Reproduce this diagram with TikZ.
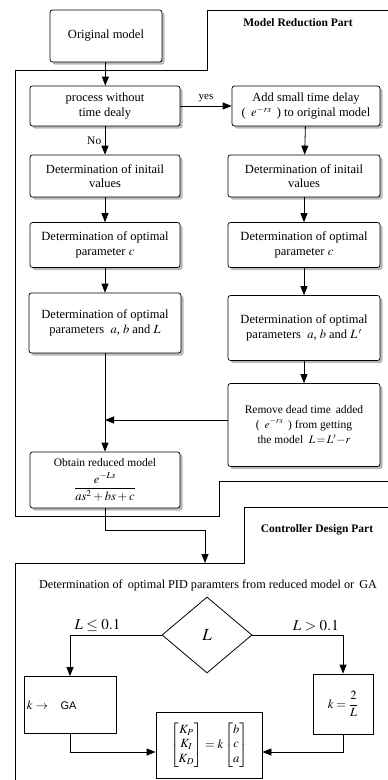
\documentclass[tikz,border=0pt]{standalone}
\usepackage{amsmath,amssymb}
\usepackage{mathptmx}
\usepackage{fontspec}
\setmainfont{Liberation Serif}
\newfontfamily\gafont{Liberation Sans}
\usetikzlibrary{arrows.meta,positioning,shapes.geometric,shadows}
\tikzset{
  stage/.style={draw,rounded corners=2.5pt,fill=white,align=center,line width=0.7pt,
    font=\fontsize{12.5}{14.5}\selectfont,inner sep=2pt,
    drop shadow={shadow xshift=2.5pt,shadow yshift=-2.5pt,fill=gray!55,opacity=1}},
  plain/.style={draw,fill=white,align=center,line width=0.8pt,
    font=\fontsize{12.5}{14.5}\selectfont,inner sep=2pt},
  flow/.style={-{Triangle[length=9pt,width=7pt]},line width=0.8pt},
  frame/.style={line width=1pt},
  parttitle/.style={font=\fontsize{11.5}{13}\selectfont\bfseries},
  cond/.style={font=\fontsize{15}{17}\selectfont},
}

\begin{document}
\begin{tikzpicture}[x=1pt,y=-1pt]
\useasboundingbox (0,0) rectangle (388,780);

% part frames
\draw[frame] (388,10) -- (207,10) -- (207,70) -- (15,70) -- (15,516)
  -- (219,516) -- (219,481) -- (388,481);
\draw[frame] (388,507) -- (244,507) -- (244,563) -- (15,563) -- (15,780);
\node[parttitle] (mrtitle) at (298,23) {Model Reduction Part};
\node[parttitle] (cdtitle) at (317,530) {Controller Design Part};

% model reduction
\node[stage,minimum width=112pt,minimum height=52pt] (orig) at (106,36) {Original model};
\node[stage,minimum width=150pt,minimum height=40pt] (proc) at (105,106)
  {process without\\time dealy};
\node[stage,minimum width=148pt,minimum height=40pt] (add) at (306,106)
  {Add small time delay\\[1pt]( \,$e^{-rs}$\, ) to original model};
\node[stage,minimum width=150pt,minimum height=42pt] (initL) at (105,176)
  {Determination of initail\\values};
\node[stage,minimum width=152pt,minimum height=42pt] (initR) at (304,176)
  {Determination of initail\\values};
\node[stage,minimum width=150pt,minimum height=45pt] (cL) at (105,245)
  {Determination of optimal\\parameter $c$};
\node[stage,minimum width=152pt,minimum height=45pt] (cR) at (304,245)
  {Determination of optimal\\parameter $c$};
\node[stage,minimum width=152pt,minimum height=60pt] (abL) at (105,323)
  {Determination of optimal\\parameters \ $a$, $b$ and $L$};
\node[stage,minimum width=152pt,minimum height=65pt] (abR) at (304,328)
  {Determination of optimal\\[1pt]parameters \ $a$, $b$ and $L\,'$};
\node[stage,minimum width=152pt,minimum height=83pt,font=\fontsize{11.5}{13.5}\selectfont] (rem) at (304,425)
  {Remove dead time \,added\\[1pt]( \,$e^{-rs}$\, ) from getting\\[2pt]the model \ $L\!=\!L'\!-\!r$};
\node[stage,minimum width=150pt,minimum height=56pt,font=\fontsize{11.5}{13}\selectfont] (obt) at (105,480)
  {Obtain reduced model\\[5pt] {\fontsize{12.5}{14}\selectfont$\dfrac{e^{-Ls}}{as^2+bs+c}$}};
\coordinate (join) at (105,420);
\coordinate (elbow) at (205,530);
\coordinate (ctrltop) at (205,563);

\draw[flow] (orig) -- (proc);
\draw[flow] (proc) -- node[above,font=\fontsize{11}{13}\selectfont]{yes} (add);
\draw[flow] (proc) -- node[left,font=\fontsize{11.5}{13}\selectfont]{No} (initL);
\draw[flow] (initL) -- (cL);
\draw[flow] (cL) -- (abL);
\draw[flow] (abL) -- (obt);
\draw[flow] (add) -- (initR);
\draw[flow] (initR) -- (cR);
\draw[flow] (cR) -- (abR);
\draw[flow] (abR) -- (rem);
\draw[flow] (rem.west |- join) -- (join);
\draw[flow] (obt.south) |- (elbow) -- (ctrltop);

% controller design
\node[font=\fontsize{12.2}{14}\selectfont] (pidtext) at (208,585)
  {Determination of \,optimal PID paramters from reduced model or \,GA};
\node[diamond,draw,line width=0.8pt,minimum width=90pt,minimum height=76pt,inner sep=0pt,
  font=\fontsize{17}{19}\selectfont] (dec) at (207,635) {$L$};
\node[plain,minimum width=92pt,minimum height=57pt,align=left,text width=86pt] (ga) at (70,705)
  {$k\rightarrow$\quad{\gafont\fontsize{11}{13}\selectfont GA}};
\node[plain,minimum width=60pt,minimum height=60pt] (kbox) at (343,704) {$k=\dfrac{2}{L}$};
\node[plain,minimum width=106pt,minimum height=66pt] (mat) at (209,745)
  {$\begin{bmatrix}K_P\\K_I\\K_D\end{bmatrix}=k\begin{bmatrix}b\\c\\a\end{bmatrix}$};

\draw[flow] (dec.west) -| node[pos=0.35,above,cond]{$L\le 0.1$} (ga);
\draw[flow] (dec.east) -| node[pos=0.35,above,cond]{$L>0.1$} (kbox);
\draw[flow] (ga.south) |- ([yshift=-7pt]mat.west);
\draw[flow] (kbox.south) |- ([yshift=-7pt]mat.east);
\end{tikzpicture}
\end{document}
